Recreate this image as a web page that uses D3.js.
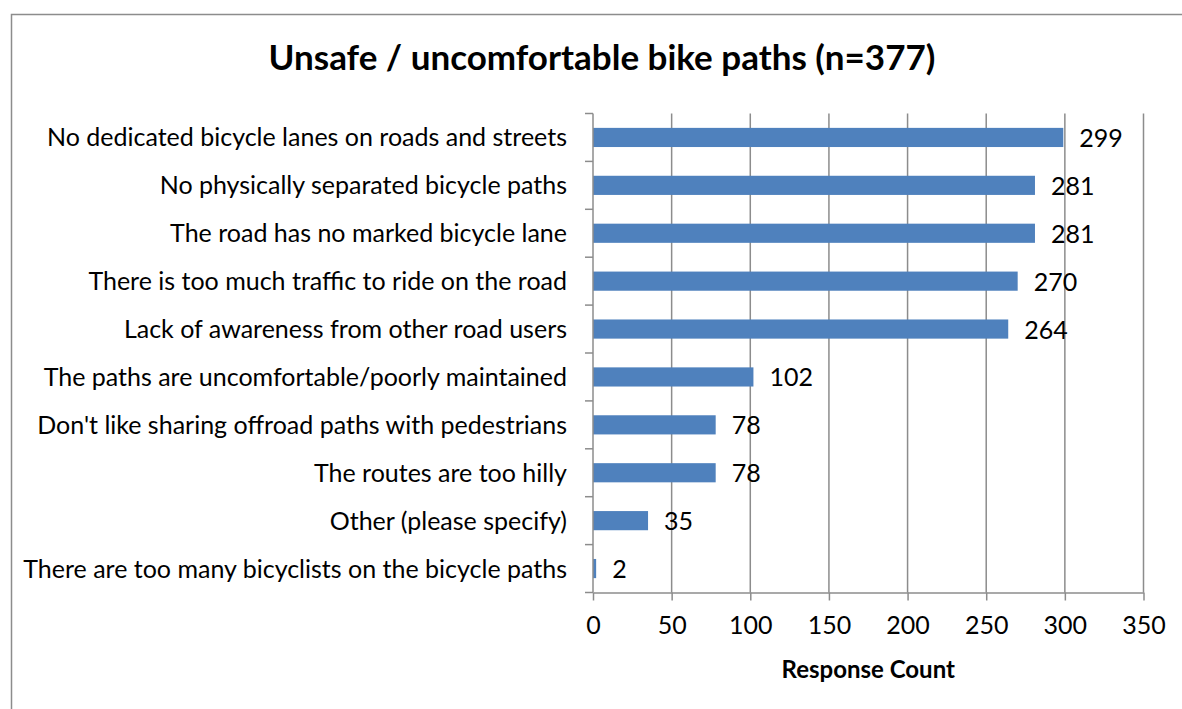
<!DOCTYPE html>
<html>
<head>
<meta charset="utf-8">
<script src="https://cdn.jsdelivr.net/npm/d3@7/dist/d3.min.js"></script>
<style>
  html, body { margin: 0; padding: 0; background: #fff; }
  svg { display: block; }
  text { font-family: Lato, "Open Sans", sans-serif; fill: #000; }
</style>
</head>
<body>
<svg id="chart" width="1182" height="709"></svg>
<script>
const categories = [
  "No dedicated bicycle lanes on roads and streets",
  "No physically separated bicycle paths",
  "The road has no marked bicycle lane",
  "There is too much traffic to ride on the road",
  "Lack of awareness from other road users",
  "The paths are uncomfortable/poorly maintained",
  "Don't like sharing offroad paths with pedestrians",
  "The routes are too hilly",
  "Other (please specify)",
  "There are too many bicyclists on the bicycle paths"
];
const values = [299, 281, 281, 270, 264, 102, 78, 78, 35, 2];
const xTicks = [0, 50, 100, 150, 200, 250, 300, 350];
const title = "Unsafe / uncomfortable bike paths (n=377)";
const xTitle = "Response Count";

const svg = d3.select("#chart");
const W = 1182, H = 709;
const m = { left: 593, right: 1143.5, top: 113.5, bottom: 592.5 };

// outer frame
svg.append("rect")
  .attr("x", 11.5).attr("y", 14.5)
  .attr("width", W + 20).attr("height", H + 20)
  .attr("fill", "none").attr("stroke", "#8c8c8c").attr("stroke-width", 1.5);

const x = d3.scaleLinear().domain([0, 350]).range([m.left, m.right]);
const y = d3.scaleBand().domain(categories).range([m.top, m.bottom]).paddingInner(0.6).paddingOuter(0.3);
const yb = d3.scaleBand().domain(categories).range([m.top, m.bottom]);

const grid = "#8c8c8c";

// vertical gridlines
svg.append("g").selectAll("line").data(xTicks.slice(1)).join("line")
  .attr("x1", d => x(d)).attr("x2", d => x(d))
  .attr("y1", m.top).attr("y2", m.bottom)
  .attr("stroke", grid).attr("stroke-width", 1.5);

// bars
svg.append("g").selectAll("rect").data(values).join("rect")
  .attr("x", x(0))
  .attr("y", (d, i) => y(categories[i]))
  .attr("width", d => x(d) - x(0))
  .attr("height", y.bandwidth())
  .attr("fill", "#4F81BD");

// x axis
const xAxis = d3.axisBottom(x).tickValues(xTicks).tickSize(8).tickPadding(16).tickSizeOuter(0);
const gx = svg.append("g").attr("transform", `translate(0,${m.bottom})`).call(xAxis);
gx.select(".domain").attr("stroke", grid).attr("stroke-width", 1.5);
gx.selectAll(".tick line").attr("stroke", grid).attr("stroke-width", 1.5);
gx.selectAll(".tick text").style("font-size", "25px").style("font-family", "Lato, sans-serif").attr("fill", "#000");

// y axis line and ticks at band boundaries
svg.append("line").attr("x1", m.left).attr("x2", m.left).attr("y1", m.top).attr("y2", m.bottom)
  .attr("stroke", grid).attr("stroke-width", 1.5);
const bounds = categories.map(c => yb(c)).concat([m.bottom]);
svg.append("g").selectAll("line").data(bounds).join("line")
  .attr("x1", m.left - 8).attr("x2", m.left)
  .attr("y1", d => d).attr("y2", d => d)
  .attr("stroke", grid).attr("stroke-width", 1.5);

// category labels
svg.append("g").selectAll("text").data(categories).join("text")
  .attr("x", m.left - 26)
  .attr("y", d => yb(d) + yb.bandwidth() / 2)
  .attr("dy", "0.36em")
  .attr("text-anchor", "end")
  .style("font-size", "25px")
  .text(d => d);

// value labels
svg.append("g").selectAll("text").data(values).join("text")
  .attr("x", d => x(d) + 16)
  .attr("y", (d, i) => yb(categories[i]) + yb.bandwidth() / 2)
  .attr("dy", "0.38em")
  .style("font-size", "25px")
  .text(d => d);

// title
svg.append("text").attr("x", 602).attr("y", 70).attr("text-anchor", "middle")
  .style("font-size", "35px").style("font-weight", "bold").text(title);

// x axis title
svg.append("text").attr("x", (m.left + m.right) / 2).attr("y", 678).attr("text-anchor", "middle")
  .style("font-size", "24px").style("font-weight", "bold").text(xTitle);
</script>
</body>
</html>
